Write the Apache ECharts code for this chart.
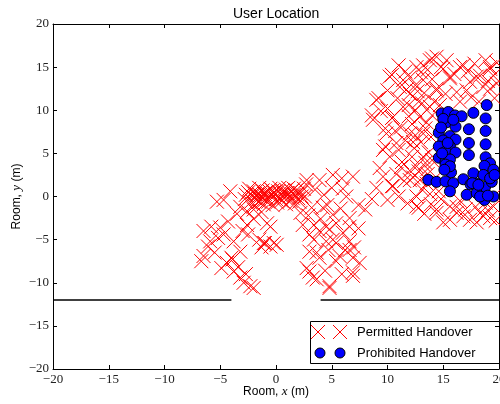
<!DOCTYPE html>
<html>
<head>
<meta charset="utf-8">
<script src="https://cdn.jsdelivr.net/npm/echarts@6/dist/echarts.min.js"></script>
<style>
  html, body { margin: 0; padding: 0; background: #fff; }
  #chart { width: 500px; height: 404px; }
</style>
</head>
<body>
<div id="chart"></div>
<script>
// Room extent (m) and tick spacing
const axisRange = [-20, 20];
const tickStep = 5;

// Wall at y = -12 m, with a doorway between x = -4 and x = 4
const wallWest = [[-20, -12], [-4, -12]];
const wallEast = [[4, -12], [20, -12]];

// Positions where handover was permitted, [x, y] in metres
const permittedWest = [
  [-4.7,-0.4],[-4.1,0.6],[-5.3,-0.6],[-5.8,-3.5],[-5.0,-3.6],[-4.3,-2.9],[-4.7,-4.4],[-5.9,-5.2],
  [-6.5,-6.9],[-5.5,-6.5],[-3.8,-5.2],[-3.2,-6.4],[-2.6,-3.3],[-2.5,-4.4],[-1.0,-5.4],[-0.5,-5.8],
  [-4.4,-7.7],[-3.8,-8.7],[-3.2,-9.4],[-2.3,-10.4],[-4.0,-7.1],[-0.8,-3.1],[-2.6,-1.7],[-3.2,-1.2],
  [-6.5,-4.0],[-6.7,-7.5],[-3.9,-7.3],[-6.1,-5.8],[-2.9,-10.0],[-1.5,-5.0],[-3.5,-2.0],[-2.0,-2.6],
  [-5.2,-4.8],[-4.9,-8.3],[-3.4,-8.2],[-2.7,-9.0],[-1.3,-5.9],[-3.0,-4.0],[-2.0,-10.6],[-1.1,-5.4],
  [-0.2,-5.4]
];
const permittedCentre = [
  [-2.5,0.5],[-2.2,0.1],[-2.0,0.6],[-1.8,-0.3],[-1.6,0.4],[-1.4,0.0],[-1.2,0.7],[-1.0,0.3],
  [-0.8,-0.2],[-0.6,0.6],[-0.4,0.1],[-0.2,0.5],[0.0,-0.3],[0.2,0.6],[0.4,0.2],[0.6,0.7],
  [0.8,-0.1],[1.0,0.4],[1.2,0.0],[1.4,0.6],[1.6,0.2],[1.8,0.7],[2.0,-0.2],[2.2,0.4],
  [2.5,0.9],[2.7,1.4],[-2.3,-0.7],[-1.9,-1.0],[-1.5,-0.6],[-1.1,-0.9],[-0.7,-0.6],[-0.3,-1.0],
  [0.1,-0.7],[0.5,-0.5],[0.9,-0.9],[1.3,-0.5],[1.7,-0.8],[2.1,-0.6],[-2.0,-1.5],[-1.3,-1.8],
  [-0.5,0.9],[0.3,1.0],[-1.5,1.0],[1.1,1.0],[-2.7,0.2],[-0.9,0.5],[0.7,0.3],[1.5,-0.2],
  [-0.1,0.2],[-1.7,0.2],[2.3,0.0],[-2.4,0.9],[-1.9,0.3],[-0.3,0.7],[0.9,0.8],[1.9,0.3],
  [-1.0,-0.4],[0.4,-0.2],[1.6,0.9],[-2.8,-0.3]
];
const permittedSouth = [
  [2.75,1.9],[3.9,1.9],[5.1,2.5],[5.9,2.1],[6.9,2.3],[5.0,1.0],[6.3,0.0],[7.4,-1.0],
  [2.6,0.0],[3.2,-1.3],[4.2,-1.3],[5.1,-2.1],[5.4,-3.1],[6.6,-2.5],[7.4,-3.7],[2.4,-3.3],
  [3.9,-4.0],[4.5,-5.2],[5.4,-5.4],[6.6,-5.2],[3.0,-6.4],[3.9,-7.1],[5.4,-7.5],[6.9,-7.1],
  [2.75,-8.3],[3.3,-9.4],[4.8,-10.4],[6.9,-8.8],[0.06,-5.6],[-0.5,-3.5],[4.7,-6.2],[6.2,-6.2],
  [3.5,0.8],[4.3,0.2],[2.9,-2.2],[4.0,-2.6],[4.8,-3.8],[6.0,-4.2],[7.0,-5.9],[3.4,-5.0],
  [4.4,-8.6],[5.9,-9.0],[2.2,-1.9],[6.0,0.9],[4.6,-1.0],[3.4,-3.3],[5.8,-1.4],[3.0,-4.4],
  [4.5,-3.5],[6.6,-3.5],[7.5,-7.7],[4.8,-10.6],[6.9,-9.2],[3.65,-9.6],[3.0,-8.7],[5.7,-6.9],
  [6.6,-6.2],[3.65,-6.5],[5.1,-5.0]
];
const permittedEast = [
  [8.7,8.9],[9.0,11.2],[10.2,13.9],[11.1,12.7],[12.6,15.0],[13.8,15.8],[14.4,16.2],[13.2,13.5],
  [12.0,11.9],[11.4,10.4],[10.5,9.2],[9.9,7.3],[9.6,5.4],[10.2,4.6],[10.8,6.2],[12.0,7.3],
  [12.9,9.2],[13.8,10.4],[14.4,12.3],[15.6,13.9],[16.5,15.0],[18.0,13.9],[19.2,15.0],[18.6,12.7],
  [17.1,12.3],[19.8,13.1],[12.6,3.5],[13.2,4.6],[12.0,1.9],[10.5,1.2],[9.6,2.3],[13.5,1.5],
  [12.6,0.0],[9.8,5.8],[11.0,5.4],[10.4,1.2],[8.0,-1.5],[12.8,-1.3],[11.6,6.5],[12.2,4.6],
  [13.4,3.9],[9.2,11.4],[8.6,9.4],[10.4,14.1],[11.0,15.2],[12.5,12.9],[13.2,15.2],[14.0,16.0],
  [11.9,10.6],[10.4,9.1],[13.4,7.9],[12.5,7.1],[9.8,7.9],[16.8,15.2],[18.3,14.0],[19.2,14.8],
  [15.6,13.7],[17.4,13.3],[14.4,12.5],[16.2,12.1],[19.2,12.5],[19.6,11.4],[14.7,10.6],[14.4,-1.5],
  [16.2,-1.2],[18.3,-1.9],[19.5,0.0],[15.6,-2.7],[17.4,-2.7],[19.2,-2.5],[14.1,1.9],[12.6,-1.15],
  [14.4,-1.9],[16.2,-1.9],[18.6,-2.3],[19.5,-1.15],[15.6,-1.15],[12.3,2.2],[12.8,2.9],[13.1,0.8],
  [13.6,2.6],[12.0,3.0],[11.5,1.8],[11.2,3.4],[12.4,5.6],[13.0,6.3],[13.7,5.1],[13.9,6.9],
  [13.5,8.6],[14.0,9.4],[12.2,8.4],[11.2,8.0],[10.9,11.4],[12.8,11.0],[13.3,12.0],[12.0,13.8],
  [11.6,14.5],[13.0,14.4],[14.0,13.6],[15.0,14.8],[15.3,15.8],[16.0,14.2],[17.8,15.4],[18.8,15.8],
  [19.5,14.0],[17.5,11.5],[18.2,11.0],[16.5,11.0],[15.2,11.9],[14.2,11.0],[10.0,10.2],[9.4,9.9],
  [10.7,7.6],[11.3,4.0],[10.8,2.6],[9.3,3.3],[9.0,1.0],[8.6,-0.3],[10.0,-0.4],[11.0,0.0],
  [11.8,-0.8],[13.3,-2.0],[14.8,-0.3],[15.0,-3.0],[16.8,-2.3],[17.9,-1.2],[19.0,-1.6],[19.7,-2.8],
  [18.0,-3.0],[13.9,-0.9],[14.6,0.6],[16.5,-0.5],[12.5,10.0],[13.1,10.8],[11.7,12.4],[10.0,12.3],
  [14.8,15.0],[17.2,14.5],[19.0,13.4],[19.8,15.5],[13.6,3.2],[12.9,1.9],[13.8,0.3],[12.3,6.3],
  [13.2,7.3],[12.7,12.2],[13.6,14.7],[11.4,13.5],[17.0,-1.5],[18.8,-0.7],[14.0,4.2],[11.9,9.3]
];

// Positions where handover was prohibited
const prohibited = [
  [14.86,9.63],[15.45,9.8],[16.05,9.4],[16.65,9.3],[17.7,9.7],[18.9,10.6],[15.3,8.6],[16.1,8.1],
  [17.3,7.8],[18.8,9.05],[18.8,7.6],[14.6,7.4],[15.6,7.0],[15.0,6.5],[16.1,6.6],[14.6,5.8],
  [15.6,5.8],[15.2,5.2],[16.1,5.1],[14.6,4.5],[15.2,4.0],[15.6,4.3],[15.2,3.7],[15.7,2.8],
  [15.6,3.5],[17.3,6.2],[18.8,6.05],[17.3,4.8],[18.8,4.55],[19.2,3.85],[18.7,3.55],[19.5,3.1],
  [17.7,2.7],[18.6,2.5],[13.66,1.93],[14.4,1.7],[15.2,1.75],[15.9,1.55],[15.6,0.6],[16.8,2.0],
  [17.45,1.4],[18.0,1.5],[18.75,1.1],[19.35,1.7],[17.1,0.2],[18.0,0.4],[18.7,-0.4],[19.5,0.0],
  [18.3,0.0],[19.0,0.1],[15.0,9.0],[14.8,8.0],[15.9,8.9],[15.4,6.2],[14.9,5.0],[15.1,3.1],
  [19.2,2.1],[19.6,2.5],[17.6,1.55],[18.15,1.35]
];

const permitted = permittedWest.concat(permittedCentre, permittedSouth, permittedEast);

const CROSS_HALF = 7;     // half-width of a cross marker, px
const DOT_SIZE = 11;      // circle marker diameter, px
const RED = '#ff0000';
const BLUE = '#0000ff';

const minusFmt = v => String(v).replace('-', '\u2212');
const serif = 'Liberation Serif';
const sans = 'Liberation Sans';

function frameAxis(position, showLabels) {
  return {
    type: 'value',
    position: position,
    min: axisRange[0],
    max: axisRange[1],
    interval: tickStep,
    splitLine: { show: false },
    axisLine: { show: true, onZero: false, lineStyle: { color: '#000', width: 1 } },
    axisTick: { show: true, inside: true, length: 4, lineStyle: { color: '#000', width: 1 } },
    axisLabel: {
      show: showLabels, margin: 4, formatter: minusFmt,
      fontFamily: serif, fontSize: 13, color: '#222'
    }
  };
}

const nameRich = {
  r: { fontFamily: sans, fontSize: 12, color: '#000' },
  i: { fontFamily: serif, fontStyle: 'italic', fontSize: 13, color: '#000' }
};

const xBottom = Object.assign(frameAxis('bottom', true), {
  name: '{r|Room, }{i|x}{r| (m)}',
  nameLocation: 'middle', nameGap: 16, nameMoveOverlap: false,
  nameTextStyle: { rich: nameRich }
});
const yLeft = Object.assign(frameAxis('left', true), {
  name: '{r|Room, }{i|y}{r| (m)}',
  nameLocation: 'middle', nameGap: 30, nameMoveOverlap: false,
  nameTextStyle: { rich: nameRich }
});

// Each permitted position is drawn as a thin "x" cross
function renderCross(params, api) {
  const p = api.coord([api.value(0), api.value(1)]);
  const h = CROSS_HALF;
  return {
    type: 'group',
    children: [
      { type: 'line', shape: { x1: p[0] - h, y1: p[1] - h, x2: p[0] + h, y2: p[1] + h },
        style: { stroke: RED, lineWidth: 1 } },
      { type: 'line', shape: { x1: p[0] + h, y1: p[1] - h, x2: p[0] - h, y2: p[1] + h },
        style: { stroke: RED, lineWidth: 1 } }
    ]
  };
}

// Legend box (bottom-right corner of the plot)
const LX = 310, LY = 321, LW = 190, LH = 42;
function legendGraphics() {
  const row1 = LY + 11, row2 = LY + 32;
  const items = [
    { type: 'rect', shape: { x: LX + 0.5, y: LY + 0.5, width: LW, height: LH },
      style: { fill: '#fff', stroke: '#000', lineWidth: 1 } }
  ];
  [LX + 8, LX + 30].forEach(cx => {
    items.push({ type: 'line', shape: { x1: cx - 7, y1: row1 - 7, x2: cx + 7, y2: row1 + 7 }, style: { stroke: RED, lineWidth: 1 } });
    items.push({ type: 'line', shape: { x1: cx + 7, y1: row1 - 7, x2: cx - 7, y2: row1 + 7 }, style: { stroke: RED, lineWidth: 1 } });
  });
  [LX + 10, LX + 30].forEach(cx => {
    items.push({ type: 'circle', shape: { cx: cx, cy: row2, r: 5 },
      style: { fill: BLUE, stroke: '#000', lineWidth: 1 } });
  });
  items.push({ type: 'text', x: LX + 47, y: row1,
    style: { text: 'Permitted Handover', fontFamily: sans, fontSize: 13, fill: '#000', verticalAlign: 'middle' } });
  items.push({ type: 'text', x: LX + 47, y: row2,
    style: { text: 'Prohibited Handover', fontFamily: sans, fontSize: 13, fill: '#000', verticalAlign: 'middle' } });
  return { type: 'group', z: 100, silent: true, children: items };
}

const chart = echarts.init(document.getElementById('chart'), null, { renderer: 'canvas' });

chart.setOption({
  animation: false,
  backgroundColor: '#fff',
  title: {
    text: 'User Location',
    left: 233, top: 7, padding: 0,
    textStyle: { fontFamily: sans, fontSize: 14, fontWeight: 'normal', color: '#000' }
  },
  grid: { left: 53, top: 24, width: 446, height: 345, containLabel: false, outerBoundsMode: 'none' },
  xAxis: [xBottom, frameAxis('top', false)],
  yAxis: [yLeft, frameAxis('right', false)],
  graphic: [legendGraphics()],
  series: [
    {
      type: 'line', name: 'wall-west', data: wallWest, symbol: 'none', silent: true,
      lineStyle: { color: '#000', width: 1.3 }, z: 1
    },
    {
      type: 'line', name: 'wall-east', data: wallEast, symbol: 'none', silent: true,
      lineStyle: { color: '#000', width: 1.3 }, z: 1
    },
    {
      type: 'custom', name: 'Permitted Handover', data: permitted,
      renderItem: renderCross, silent: true, clip: false, z: 2
    },
    {
      type: 'scatter', name: 'Prohibited Handover', data: prohibited,
      symbol: 'circle', symbolSize: DOT_SIZE, silent: true,
      itemStyle: { color: BLUE, borderColor: '#000', borderWidth: 1, opacity: 1 },
      emphasis: { disabled: true }, z: 3
    }
  ]
});
</script>
</body>
</html>
